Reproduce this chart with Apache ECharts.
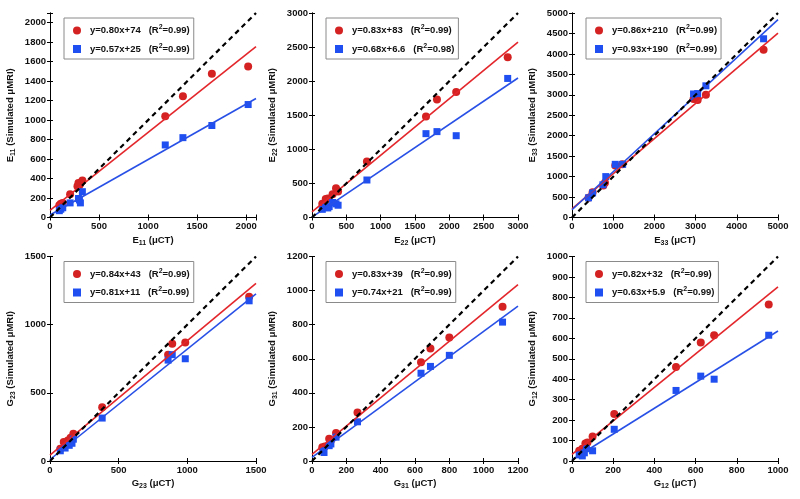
<!DOCTYPE html>
<html>
<head>
<meta charset="utf-8">
<script src="https://cdn.jsdelivr.net/npm/echarts@6/dist/echarts.min.js"></script>
<style>
  html, body { margin: 0; padding: 0; background: #fff; }
  #chart { width: 800px; height: 499px; }
</style>
</head>
<body>
<div id="chart"></div>
<script>
// panel labels (letter + subscript)
const panelSym = ['E', 'E', 'E', 'G', 'G', 'G'];
const panelSub = ['11', '22', '33', '23', '31', '12'];
// axis ranges / tick steps
const axisMax = [2100, 3000, 5000, 1500, 1200, 1000];
const xStep = [500, 500, 1000, 500, 200, 200];
const yStep = [200, 500, 500, 500, 200, 100];
// fitted lines
const redSlope = [0.80, 0.83, 0.86, 0.84, 0.83, 0.82];
const redIntercept = [74, 83, 210, 43, 39, 32];
const blueSlope = [0.57, 0.68, 0.93, 0.81, 0.74, 0.63];
const blueIntercept = [25, 6.6, 190, 11, 21, 5.9];
const redFit = ['y=0.80x+74', 'y=0.83x+83', 'y=0.86x+210', 'y=0.84x+43', 'y=0.83x+39', 'y=0.82x+32'];
const blueFit = ['y=0.57x+25', 'y=0.68x+6.6', 'y=0.93x+190', 'y=0.81x+11', 'y=0.74x+21', 'y=0.63x+5.9'];
const redR2 = ['0.99', '0.99', '0.99', '0.99', '0.99', '0.99'];
const blueR2 = ['0.99', '0.98', '0.99', '0.99', '0.99', '0.99'];

// measured points [µCT, simulated µMRI]
const e11Red = [[95,125],[110,140],[130,150],[205,240],[280,320],[290,355],[300,330],[310,350],[330,380],[1175,1040],[1355,1245],[1650,1475],[2020,1550]];
const e11Blue = [[95,70],[110,85],[130,100],[205,150],[290,195],[300,180],[310,150],[330,265],[1175,745],[1355,820],[1650,945],[2020,1160]];
const e22Red = [[150,200],[200,270],[230,280],[300,340],[350,430],[380,380],[800,820],[1660,1480],[1820,1730],[2100,1840],[2850,2350]];
const e22Blue = [[150,120],[200,150],[230,140],[250,160],[300,220],[350,200],[380,180],[800,550],[1660,1230],[1820,1260],[2100,1200],[2850,2040]];
const e33Red = [[400,480],[500,620],[760,780],[800,850],[1050,1270],[1220,1300],[2950,2900],[3050,2870],[3250,3000],[4650,4100]];
const e33Blue = [[400,480],[500,600],[750,800],[820,1000],[1050,1300],[1230,1300],[2950,3020],[3050,3030],[3250,3220],[4650,4370]];
const g23Red = [[75,90],[100,140],[130,150],[150,170],[170,200],[380,395],[860,780],[890,860],[985,870],[1450,1205]];
const g23Blue = [[75,75],[110,95],[140,115],[160,130],[170,160],[380,315],[860,740],[890,780],[985,750],[1450,1175]];
const g31Red = [[60,80],[75,85],[100,130],[110,120],[140,165],[265,285],[635,580],[690,660],[800,725],[1110,905]];
const g31Blue = [[65,60],[70,50],[100,90],[110,100],[140,140],[265,230],[635,515],[690,555],[800,620],[1110,815]];
const g12Red = [[35,50],[50,60],[65,85],[75,90],[100,120],[205,230],[505,460],[625,580],[690,615],[955,765]];
const g12Blue = [[35,30],[50,25],[60,40],[70,60],[100,50],[205,155],[505,345],[625,415],[690,400],[955,615]];

const redData = [e11Red, e22Red, e33Red, g23Red, g31Red, g12Red];
const blueData = [e11Blue, e22Blue, e33Blue, g23Blue, g31Blue, g12Blue];

const FONT = 'Liberation Sans';
const RED_PT = '#d42222', RED_LN = '#e3262b';
const BLUE_PT = '#1f4ff0', BLUE_LN = '#2850e6';
const colLeft = [50, 312, 572];
const rowTop = [13, 256.5];
const W = 206, H = 204.5;

const rich = {
  b: { fontFamily: FONT, fontWeight: 'bold', fontSize: 9.5, color: '#111' },
  s: { fontFamily: FONT, fontWeight: 'bold', fontSize: 7, color: '#111', padding: [6, 0, 0, 0] },
  u: { fontFamily: FONT, fontWeight: 'bold', fontSize: 7, color: '#111', padding: [0, 0, 6, 0] }
};

const r2Lookup = {};
redFit.forEach((n, i) => { r2Lookup[n] = redR2[i]; });
blueFit.forEach((n, i) => { r2Lookup[n] = blueR2[i]; });

const grid = [], xAxis = [], yAxis = [], series = [], legend = [];

for (let i = 0; i < 6; i++) {
  const left = colLeft[i % 3], top = rowTop[Math.floor(i / 3)];
  const m = axisMax[i];
  grid.push({ left: left, top: top, width: W, height: H });
  const lbl = (step) => ({
    fontFamily: FONT, fontWeight: 'bold', fontSize: 9.5, color: '#111', margin: 4,
    formatter: v => (v % step === 0 ? String(v) : '')
  });
  const common = {
    gridIndex: i, type: 'value', min: 0, max: m,
    axisLine: { show: true, lineStyle: { color: '#000', width: 1 } },
    axisTick: { show: true, inside: true, length: 3, lineStyle: { color: '#000' } },
    splitLine: { show: false }
  };
  // bottom / left axes carry labels, top / right only close the box
  xAxis.push(Object.assign({}, common, {
    position: 'bottom', interval: xStep[i], axisLabel: lbl(xStep[i]),
    name: '{b|' + panelSym[i] + '}{s|' + panelSub[i] + '}{b| (μCT)}',
    nameLocation: 'middle', nameGap: 16, nameTextStyle: { rich: rich }
  }));
  xAxis.push(Object.assign({}, common, {
    position: 'top', interval: xStep[i], axisLabel: { show: false }
  }));
  yAxis.push(Object.assign({}, common, {
    position: 'left', interval: yStep[i], axisLabel: lbl(yStep[i]),
    name: '{b|' + panelSym[i] + '}{s|' + panelSub[i] + '}{b| (Simulated μMRI)}',
    nameLocation: 'middle', nameGap: 33, nameTextStyle: { rich: rich }
  }));
  yAxis.push(Object.assign({}, common, {
    position: 'right', interval: yStep[i], axisLabel: { show: false }
  }));
  const xa = i * 2, ya = i * 2;
  series.push({
    name: redFit[i], type: 'scatter', xAxisIndex: xa, yAxisIndex: ya,
    symbol: 'circle', symbolSize: 8, itemStyle: { color: RED_PT, opacity: 1 },
    data: redData[i], z: 3
  });
  series.push({
    name: blueFit[i], type: 'scatter', xAxisIndex: xa, yAxisIndex: ya,
    symbol: 'rect', symbolSize: 7, itemStyle: { color: BLUE_PT, opacity: 1 },
    data: blueData[i], z: 3
  });
  series.push({
    type: 'line', xAxisIndex: xa, yAxisIndex: ya, symbol: 'none', silent: true,
    lineStyle: { color: RED_LN, width: 1.6 },
    data: [[0, redIntercept[i]], [m, redSlope[i] * m + redIntercept[i]]], z: 4
  });
  series.push({
    type: 'line', xAxisIndex: xa, yAxisIndex: ya, symbol: 'none', silent: true,
    lineStyle: { color: BLUE_LN, width: 1.6 },
    data: [[0, blueIntercept[i]], [m, blueSlope[i] * m + blueIntercept[i]]], z: 4
  });
  // y = x reference
  series.push({
    type: 'line', xAxisIndex: xa, yAxisIndex: ya, symbol: 'none', silent: true,
    lineStyle: { color: '#000', width: 2.2, type: [5, 4] },
    data: [[0, 0], [m, m]], z: 5
  });
  legend.push({
    left: left + 14, top: top + 5, orient: 'vertical',
    backgroundColor: '#fff', borderColor: '#8a8a8a', borderWidth: 1,
    padding: [6, 4, 5, 9], itemGap: 7, itemWidth: 8, itemHeight: 8,
    selectedMode: false,
    data: [{ name: redFit[i], icon: 'circle' }, { name: blueFit[i], icon: 'rect' }],
    formatter: n => '{b|' + n + '}{b|   (R}{u|2}{b|=' + r2Lookup[n] + ')}',
    textStyle: { rich: rich, padding: [0, 0, 0, 4] }
  });
}

const chart = echarts.init(document.getElementById('chart'), null, { renderer: 'canvas' });
chart.setOption({
  backgroundColor: '#fff',
  animation: false,
  grid: grid,
  xAxis: xAxis,
  yAxis: yAxis,
  legend: legend,
  series: series
});
</script>
</body>
</html>
